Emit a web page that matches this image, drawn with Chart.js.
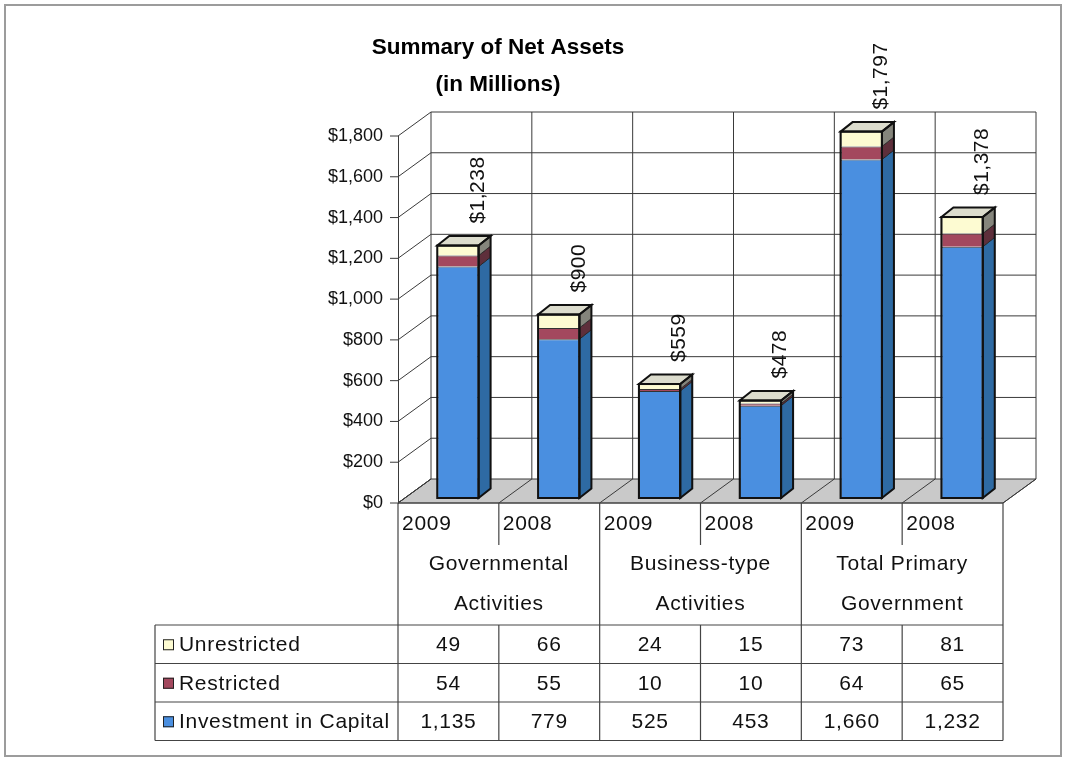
<!DOCTYPE html>
<html>
<head>
<meta charset="utf-8">
<title>Summary of Net Assets</title>
<script src="https://cdn.jsdelivr.net/npm/chart.js@4.4.1/dist/chart.umd.min.js"></script>
<style>
    html, body { margin: 0; padding: 0; background: #fff; }
    #wrap { width: 1065px; height: 760px; }
</style>
</head>
<body>
<div id="wrap"><canvas id="netAssets" width="1065" height="760"></canvas></div>
<script>
// Net assets, in millions
const years = ['2009', '2008', '2009', '2008', '2009', '2008'];
const groups = [
    ['Governmental', 'Activities'],
    ['Business-type', 'Activities'],
    ['Total Primary', 'Government']
];
const unrestricted = [49, 66, 24, 15, 73, 81];
const restricted = [54, 55, 10, 10, 64, 65];
const investment = [1135, 779, 525, 453, 1660, 1232];
const seriesNames = ['Investment in Capital', 'Restricted', 'Unrestricted'];
const axisMax = 1800;
const axisStep = 200;

const FONT = "'Liberation Sans', Arial, Helvetica, sans-serif";

// 3D look: depth of walls/floor, where the bars sit, and how deep they are
const wallDepth = { dx: 33, dy: -24 };
const barShift = { dx: 9.5, dy: -5 };
const barDepth = { dx: 12, dy: -9.5 };

const faceColors = ['#4a8fe0', '#a3485e', '#fdfbd2'];
const sideColors = ['#2e6aa3', '#5e2f3b', '#85857c'];
const topColor = '#dcdccd';
const lineColor = '#3a3a3a';

function money(v) {
    return '$' + Number(v).toLocaleString('en-US');
}

function poly(ctx, pts, fill, stroke, width) {
    ctx.beginPath();
    ctx.moveTo(pts[0][0], pts[0][1]);
    for (let i = 1; i < pts.length; i++) ctx.lineTo(pts[i][0], pts[i][1]);
    ctx.closePath();
    if (fill) { ctx.fillStyle = fill; ctx.fill(); }
    if (stroke) { ctx.strokeStyle = stroke; ctx.lineWidth = width || 1; ctx.stroke(); }
}

function line(ctx, x1, y1, x2, y2) {
    ctx.beginPath();
    ctx.moveTo(x1, y1);
    ctx.lineTo(x2, y2);
    ctx.stroke();
}

// Walls, floor, title and the outer frame
function drawBackdrop(chart) {
    const ctx = chart.ctx;
    const area = chart.chartArea;
    const xs = chart.scales.x;
    const ys = chart.scales.y;
    const colW = (xs.right - xs.left) / years.length;
    const dx = wallDepth.dx, dy = wallDepth.dy;

    ctx.save();
    ctx.fillStyle = '#fff';
    ctx.fillRect(0, 0, chart.width, chart.height);

    ctx.strokeStyle = '#9c9c9c';
    ctx.lineWidth = 2;
    ctx.strokeRect(5, 5, 1056, 751);

    // title
    ctx.fillStyle = '#000';
    ctx.font = 'bold 22.5px ' + FONT;
    ctx.textAlign = 'center';
    ctx.textBaseline = 'middle';
    ctx.fillText('Summary of Net Assets', 498, 48);
    ctx.fillText('(in Millions)', 498, 85);

    // floor
    const y0 = ys.getPixelForValue(0);
    poly(ctx, [[area.left, y0], [area.right, y0], [area.right + dx, y0 + dy], [area.left + dx, y0 + dy]],
        '#c9c9c9', lineColor, 1);
    ctx.strokeStyle = lineColor;
    ctx.lineWidth = 1;
    for (let i = 0; i <= years.length; i++) {
        const x = area.left + i * colW;
        line(ctx, x, y0, x + dx, y0 + dy);
    }

    // side wall and back wall gridlines
    const yTop = ys.getPixelForValue(axisMax);
    for (let v = 0; v <= axisMax; v += axisStep) {
        const y = ys.getPixelForValue(v);
        line(ctx, area.left - 8, y, area.left, y);
        line(ctx, area.left, y, area.left + dx, y + dy);
        if (v > 0) line(ctx, area.left + dx, y + dy, area.right + dx, y + dy);
    }
    for (let i = 0; i <= years.length; i++) {
        const x = area.left + i * colW + dx;
        line(ctx, x, yTop + dy, x, y0 + dy);
    }
    ctx.restore();
}

// Right side and top of every bar, plus the heavy outline
function drawBarSides(chart) {
    const ctx = chart.ctx;
    const metas = seriesNames.map((_, d) => chart.getDatasetMeta(d));
    const bx = barDepth.dx, by = barDepth.dy;

    ctx.save();
    for (let i = 0; i < years.length; i++) {
        metas.forEach((meta, d) => {
            const el = meta.data[i];
            const r = el.x + el.width / 2;
            poly(ctx, [[r, el.y], [r + bx, el.y + by], [r + bx, el.base + by], [r, el.base]],
                sideColors[d], '#222', 0.8);
        });
        const top = metas[metas.length - 1].data[i];
        const bottom = metas[0].data[i];
        const l = top.x - top.width / 2;
        const r = top.x + top.width / 2;
        poly(ctx, [[l, top.y], [l + bx, top.y + by], [r + bx, top.y + by], [r, top.y]], topColor, '#111', 2);
        poly(ctx, [[r, top.y], [r + bx, top.y + by], [r + bx, bottom.base + by], [r, bottom.base]], null, '#111', 2);
        ctx.strokeStyle = '#111';
        ctx.lineWidth = 2;
        ctx.strokeRect(l, top.y, r - l, bottom.base - top.y);
    }
    ctx.restore();
}

// Rotated totals above the bars
function drawTotals(chart) {
    const ctx = chart.ctx;
    const meta = chart.getDatasetMeta(seriesNames.length - 1);
    ctx.save();
    ctx.fillStyle = '#111';
    ctx.font = '21px ' + FONT;
    ctx.letterSpacing = '0.5px';
    ctx.textAlign = 'left';
    ctx.textBaseline = 'middle';
    for (let i = 0; i < years.length; i++) {
        const total = investment[i] + restricted[i] + unrestricted[i];
        const el = meta.data[i];
        ctx.save();
        ctx.translate(el.x + barShift.dx + 20, el.y + barShift.dy - 22);
        ctx.rotate(-Math.PI / 2);
        ctx.fillText(money(total), 0, 0);
        ctx.restore();
    }
    ctx.restore();
}

// Data table under the plot
function drawTable(chart) {
    const ctx = chart.ctx;
    const area = chart.chartArea;
    const xs = chart.scales.x;
    const colW = (xs.right - xs.left) / years.length;
    const top = area.bottom;
    const yearBottom = top + 42;
    const headBottom = top + 122;
    const rowH = 38.5;
    const legendLeft = 155;
    const rows = [
        { name: 'Unrestricted', values: unrestricted, color: faceColors[2] },
        { name: 'Restricted', values: restricted, color: faceColors[1] },
        { name: 'Investment in Capital', values: investment, color: faceColors[0] }
    ];
    const tableBottom = headBottom + rows.length * rowH;

    ctx.save();
    ctx.strokeStyle = '#444';
    ctx.lineWidth = 1.2;

    // horizontal rules
    line(ctx, area.left, top, area.right, top);
    for (let r = 0; r <= rows.length; r++) {
        const y = headBottom + r * rowH;
        line(ctx, legendLeft, y, area.right, y);
    }
    // vertical rules
    line(ctx, legendLeft, headBottom, legendLeft, tableBottom);
    for (let i = 0; i <= years.length; i++) {
        const x = area.left + i * colW;
        if (i % 2 === 0) {
            line(ctx, x, top, x, tableBottom);
        } else {
            line(ctx, x, top, x, yearBottom);
            line(ctx, x, headBottom, x, tableBottom);
        }
    }

    ctx.fillStyle = '#111';
    ctx.font = '21px ' + FONT;
    ctx.letterSpacing = '0.7px';
    ctx.textBaseline = 'middle';

    // year row
    ctx.textAlign = 'left';
    years.forEach((yr, i) => {
        ctx.fillText(yr, area.left + i * colW + 4, top + 21);
    });

    // group names
    ctx.textAlign = 'center';
    groups.forEach((g, k) => {
        const cx = area.left + (k * 2 + 1) * colW;
        ctx.fillText(g[0], cx, top + 61);
        ctx.fillText(g[1], cx, top + 101);
    });

    // series rows
    rows.forEach((row, r) => {
        const cy = headBottom + r * rowH + rowH / 2 + 1;
        ctx.fillStyle = row.color;
        ctx.fillRect(163, cy - 6, 11, 11);
        ctx.strokeStyle = '#222';
        ctx.lineWidth = 1;
        ctx.strokeRect(163.5, cy - 5.5, 10, 10);
        ctx.fillStyle = '#111';
        ctx.textAlign = 'left';
        ctx.fillText(row.name, 179, cy);
        ctx.textAlign = 'center';
        row.values.forEach((v, i) => {
            ctx.fillText(Number(v).toLocaleString('en-US'), xs.getPixelForValue(i), cy);
        });
    });
    ctx.restore();
}

const depthPlugin = {
    id: 'depthPlugin',
    beforeDraw(chart) {
        drawBackdrop(chart);
    },
    beforeDatasetsDraw(chart) {
        chart.ctx.save();
        chart.ctx.translate(barShift.dx, barShift.dy);
    },
    afterDatasetsDraw(chart) {
        drawBarSides(chart);
        chart.ctx.restore();
        drawTotals(chart);
    },
    afterDraw(chart) {
        drawTable(chart);
    }
};

const ctx = document.getElementById('netAssets').getContext('2d');
new Chart(ctx, {
    type: 'bar',
    data: {
        labels: years,
        datasets: [
            { label: seriesNames[0], data: investment, backgroundColor: faceColors[0] },
            { label: seriesNames[1], data: restricted, backgroundColor: faceColors[1] },
            { label: seriesNames[2], data: unrestricted, backgroundColor: faceColors[2] }
        ]
    },
    options: {
        responsive: false,
        animation: false,
        layout: { padding: { left: 0, right: 62, top: 136, bottom: 257 } },
        datasets: {
            bar: {
                barPercentage: 0.41,
                categoryPercentage: 1,
                borderWidth: 1,
                borderColor: '#333',
                clip: false
            }
        },
        plugins: {
            legend: { display: false },
            title: { display: false },
            tooltip: { enabled: false }
        },
        scales: {
            x: { stacked: true, display: false },
            y: {
                stacked: true,
                min: 0,
                max: axisMax,
                afterFit(scale) { scale.width = 398; },
                grid: { display: false, drawTicks: false },
                border: { display: true, color: lineColor, width: 1 },
                ticks: {
                    stepSize: axisStep,
                    padding: 15,
                    color: '#111',
                    font: { family: FONT, size: 18 },
                    callback: v => money(v)
                }
            }
        }
    },
    plugins: [depthPlugin]
});
</script>
</body>
</html>
